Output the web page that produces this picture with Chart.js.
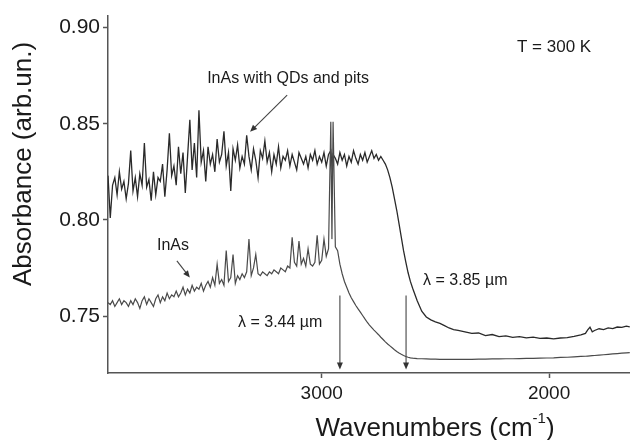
<!DOCTYPE html>
<html>
<head>
<meta charset="utf-8">
<script src="https://cdn.jsdelivr.net/npm/chart.js@4/dist/chart.umd.min.js"></script>
<style>
html,body{margin:0;padding:0;background:#fff;}
#wrap{width:630px;height:440px;position:relative;}
</style>
</head>
<body>
<div id="wrap"><canvas id="c" width="630" height="440"></canvas></div>
<script>
// Wavenumber grid (cm^-1), shared by both spectra
const wavenumbers = [
3940,3930,3920,3910,3900,3890,3880,3870,3860,3850,
3840,3830,3820,3810,3800,3790,3780,3770,3760,3750,
3740,3730,3720,3710,3700,3690,3680,3670,3660,3650,
3640,3630,3620,3610,3600,3590,3580,3570,3560,3550,
3540,3530,3520,3510,3500,3490,3480,3470,3460,3450,
3440,3430,3420,3410,3400,3390,3380,3370,3360,3350,
3340,3330,3320,3310,3300,3290,3280,3270,3260,3250,
3240,3230,3220,3210,3200,3190,3180,3170,3160,3150,
3140,3130,3120,3110,3100,3090,3080,3070,3060,3050,
3040,3030,3020,3010,3000,2990,2980,2970,2960,2955,2950,
2940,2930,2920,2910,2900,2890,2880,2870,2860,2850,
2840,2830,2820,2810,2800,2790,2780,2770,2760,2750,
2740,2730,2720,2710,2700,
2690,2680,2670,2660,2650,2640,2630,2620,2610,2600,
2580,2560,2540,2520,2500,2480,2460,2440,2420,2400,
2370,2340,2310,2280,2250,2220,2190,2160,2130,2100,
2070,2040,2010,1980,1950,1920,1890,1860,1840,1830,
1820,1810,1800,1780,1760,1740,1720,1700,1680,1660,1645
];

// "InAs with QDs and pits" absorbance
const qdAbsorbance = [
0.823,0.801,0.818,0.822,0.813,0.825,0.816,0.820,0.811,0.819,
0.836,0.815,0.822,0.812,0.824,0.818,0.840,0.817,0.821,0.810,
0.825,0.813,0.822,0.820,0.829,0.812,0.826,0.845,0.823,0.828,
0.818,0.838,0.824,0.835,0.814,0.833,0.852,0.826,0.840,0.822,
0.857,0.830,0.836,0.820,0.838,0.829,0.834,0.825,0.842,0.830,
0.834,0.846,0.828,0.835,0.815,0.837,0.831,0.839,0.827,0.833,
0.829,0.844,0.833,0.826,0.837,0.831,0.822,0.836,0.832,0.841,
0.830,0.835,0.825,0.834,0.829,0.838,0.827,0.833,0.831,0.836,
0.828,0.834,0.830,0.826,0.835,0.832,0.829,0.833,0.827,0.834,
0.831,0.836,0.829,0.833,0.830,0.835,0.828,0.834,0.836,0.829,0.834,
0.832,0.829,0.835,0.831,0.834,0.828,0.833,0.830,0.836,0.832,
0.829,0.834,0.831,0.835,0.830,0.833,0.836,0.832,0.834,0.831,
0.833,0.831,0.829,0.826,0.822,
0.817,0.811,0.805,0.798,0.791,0.784,0.778,0.7725,0.768,0.7645,
0.758,0.7525,0.7495,0.748,0.747,0.7462,0.745,0.7438,0.743,0.7425,
0.7418,0.741,0.7412,0.7398,0.7404,0.7393,0.7397,0.7389,0.7393,0.7387,
0.739,0.7384,0.7386,0.7381,0.7386,0.7388,0.7394,0.7402,0.741,0.7428,
0.7442,0.7418,0.7425,0.7434,0.743,0.7439,0.7435,0.7443,0.7441,0.7448,0.7444
];

// "InAs" absorbance
const inasAbsorbance = [
0.757,0.756,0.758,0.755,0.757,0.759,0.756,0.758,0.757,0.755,
0.758,0.756,0.759,0.757,0.754,0.758,0.760,0.756,0.759,0.757,
0.755,0.759,0.761,0.757,0.760,0.758,0.762,0.759,0.761,0.760,
0.763,0.760,0.762,0.765,0.761,0.764,0.762,0.766,0.763,0.765,
0.764,0.767,0.763,0.766,0.768,0.765,0.770,0.766,0.777,0.767,
0.769,0.766,0.784,0.768,0.770,0.782,0.767,0.771,0.769,0.772,
0.770,0.773,0.790,0.771,0.775,0.782,0.772,0.771,0.773,0.772,
0.771,0.773,0.772,0.774,0.773,0.772,0.775,0.774,0.773,0.776,
0.775,0.791,0.778,0.776,0.789,0.777,0.780,0.776,0.785,0.777,
0.776,0.778,0.792,0.777,0.779,0.790,0.781,0.785,0.851,0.790,0.851,
0.786,0.784,0.777,0.772,0.768,0.765,0.762,0.7595,0.7575,0.7555,
0.7537,0.752,0.7503,0.7485,0.7468,0.7453,0.744,0.7427,0.7415,0.7403,
0.739,0.7378,0.7366,0.7355,0.7345,
0.7335,0.7325,0.7316,0.7308,0.7301,0.7295,0.729,0.7286,0.7283,0.7281,
0.7279,0.7278,0.7277,0.7276,0.7276,0.7275,0.7275,0.7275,0.7275,0.7275,
0.7275,0.7275,0.7276,0.7276,0.7277,0.7277,0.7278,0.7278,0.7279,0.728,
0.728,0.7281,0.7282,0.7283,0.7285,0.7286,0.7288,0.729,0.7291,0.7292,
0.7293,0.7294,0.7295,0.7297,0.7299,0.7301,0.7303,0.7305,0.7307,0.7309,0.731
];

const xTicks = [3000, 2000];
const yTicks = [0.75, 0.80, 0.85, 0.90];

// text annotations in data coordinates [wavenumber, absorbance]
const annotations = [
  {text: 'InAs with QDs and pits', wn: 3148, v: 0.8732, align: 'center', size: 16},
  {text: 'InAs', wn: 3654, v: 0.7865, align: 'center', size: 16},
  {text: 'λ = 3.44 µm', wn: 3368, v: 0.7467, align: 'left', size: 16},
  {text: 'λ = 3.85 µm', wn: 2554, v: 0.7684, align: 'left', size: 16},
  {text: 'T = 300 K', wn: 2141, v: 0.8897, align: 'left', size: 17}
];
// arrows in data coordinates: from -> to (head at "to")
const arrows = [
  {from: [3152, 0.8649], to: [3315, 0.8458]},
  {from: [3637, 0.7787], to: [3580, 0.7700]},
  {from: [2920, 0.7607], to: [2920, 0.7222]},
  {from: [2629, 0.7607], to: [2629, 0.7222]}
];

const FONT = "'Liberation Sans', Arial, sans-serif";

function drawArrow(ctx, x1, y1, x2, y2) {
  const ang = Math.atan2(y2 - y1, x2 - x1);
  const L = 7, W = 3;
  ctx.beginPath();
  ctx.moveTo(x1, y1);
  ctx.lineTo(x2 - Math.cos(ang) * L * 0.8, y2 - Math.sin(ang) * L * 0.8);
  ctx.stroke();
  ctx.beginPath();
  ctx.moveTo(x2, y2);
  ctx.lineTo(x2 - Math.cos(ang) * L - Math.sin(ang) * W, y2 - Math.sin(ang) * L + Math.cos(ang) * W);
  ctx.lineTo(x2 - Math.cos(ang) * L + Math.sin(ang) * W, y2 - Math.sin(ang) * L - Math.cos(ang) * W);
  ctx.closePath();
  ctx.fill();
}

const annotPlugin = {
  id: 'annot',
  afterDatasetsDraw(chart) {
    const {ctx, scales: {x, y}} = chart;
    ctx.save();
    ctx.fillStyle = '#1a1a1a';
    ctx.textBaseline = 'middle';
    annotations.forEach(a => {
      ctx.font = a.size + 'px ' + FONT;
      ctx.textAlign = a.align;
      ctx.fillText(a.text, x.getPixelForValue(a.wn), y.getPixelForValue(a.v));
    });
    ctx.strokeStyle = '#444';
    ctx.fillStyle = '#333';
    ctx.lineWidth = 1.1;
    arrows.forEach(a => {
      drawArrow(ctx, x.getPixelForValue(a.from[0]), y.getPixelForValue(a.from[1]),
                     x.getPixelForValue(a.to[0]), y.getPixelForValue(a.to[1]));
    });
    // axis titles
    ctx.fillStyle = '#1a1a1a';
    ctx.textBaseline = 'middle';
    const big = '26px ' + FONT, small = '15px ' + FONT;
    const p1 = 'Wavenumbers (cm', p2 = '-1', p3 = ')';
    ctx.font = big; const w1 = ctx.measureText(p1).width, w3 = ctx.measureText(p3).width;
    ctx.font = small; const w2 = ctx.measureText(p2).width;
    const total = w1 + w2 + w3;
    const sx = 435 - total / 2, ty = 429;
    ctx.textAlign = 'left';
    ctx.font = big; ctx.fillText(p1, sx, ty);
    ctx.font = small; ctx.fillText(p2, sx + w1, ty - 10);
    ctx.font = big; ctx.fillText(p3, sx + w1 + w2, ty);
    ctx.translate(24, 164);
    ctx.rotate(-Math.PI / 2);
    ctx.textAlign = 'center';
    ctx.font = big;
    ctx.fillText('Absorbance (arb.un.)', 0, 0);
    ctx.restore();
  }
};

const mk = vals => wavenumbers.map((w, i) => ({x: w, y: vals[i]}));

new Chart(document.getElementById('c'), {
  type: 'line',
  data: {
    datasets: [
      {label: 'InAs', data: mk(inasAbsorbance), borderColor: '#4a4a4a', borderWidth: 1.2, pointRadius: 0, tension: 0},
      {label: 'InAs with QDs and pits', data: mk(qdAbsorbance), borderColor: '#2a2a2a', borderWidth: 1.3, pointRadius: 0, tension: 0}
    ]
  },
  options: {
    responsive: false,
    animation: false,
    layout: {padding: {top: 13, right: 0, left: 0, bottom: 0}},
    plugins: {legend: {display: false}, tooltip: {enabled: false}},
    scales: {
      x: {
        type: 'linear', reverse: true, min: 1644, max: 3940,
        afterFit: s => { s.height = 67; },
        afterBuildTicks: s => { s.ticks = xTicks.map(v => ({value: v})); },
        ticks: {font: {size: 19, family: FONT}, color: '#1a1a1a', padding: 4, callback: v => String(v), maxRotation: 0},
        grid: {drawOnChartArea: false, drawTicks: true, tickLength: 5, tickColor: '#555', tickWidth: 1.5},
        border: {display: true, color: '#555', width: 1.5}
      },
      y: {
        type: 'linear', min: 0.7204, max: 0.9062,
        afterFit: s => { s.width = 108; },
        afterBuildTicks: s => { s.ticks = yTicks.map(v => ({value: v})); },
        ticks: {font: {size: 21, family: FONT}, color: '#1a1a1a', padding: 3, callback: v => v.toFixed(2)},
        grid: {drawOnChartArea: false, drawTicks: true, tickLength: 5, tickColor: '#555', tickWidth: 1.5},
        border: {display: true, color: '#555', width: 1.5}
      }
    }
  },
  plugins: [annotPlugin]
});
</script>
</body>
</html>
